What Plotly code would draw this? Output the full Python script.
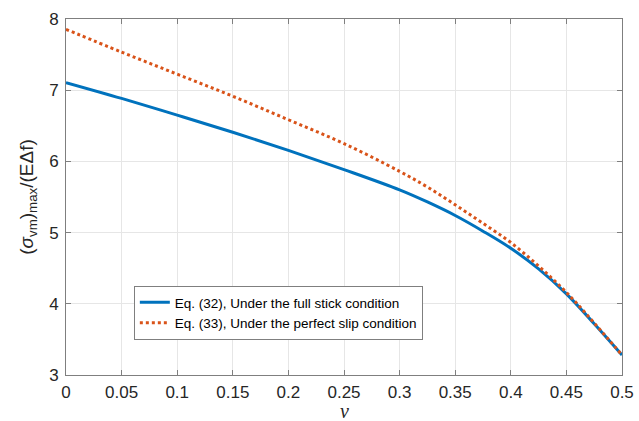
import plotly.graph_objects as go

nu = [0, 0.05, 0.1, 0.15, 0.2, 0.25, 0.3, 0.325, 0.35, 0.375, 0.4, 0.425, 0.45, 0.475, 0.5]
stick = [7.107, 6.885, 6.65, 6.41, 6.155, 5.885, 5.60, 5.43, 5.24, 5.02, 4.78, 4.49, 4.14, 3.72, 3.28]
slip = [7.855, 7.535, 7.225, 6.915, 6.585, 6.25, 5.86, 5.64, 5.39, 5.13, 4.86, 4.53, 4.16, 3.73, 3.28]
xticks = [0, 0.05, 0.1, 0.15, 0.2, 0.25, 0.3, 0.35, 0.4, 0.45, 0.5]
xticklabels = ["0", "0.05", "0.1", "0.15", "0.2", "0.25", "0.3", "0.35", "0.4", "0.45", "0.5"]
yticks = [3, 4, 5, 6, 7, 8]

fig = go.Figure()
fig.add_trace(go.Scatter(x=nu, y=stick, mode="lines", line=dict(color="#0072BD", width=3, shape="spline"),
                         name="Eq. (32), Under the full stick condition"))
fig.add_trace(go.Scatter(x=nu, y=slip, mode="lines", line=dict(color="#D95319", width=3, dash="dot", shape="spline"),
                         name="Eq. (33), Under the perfect slip condition"))

axcommon = dict(showline=True, linecolor="#7f7f7f", linewidth=1, mirror="ticks", ticks="inside", ticklen=5,
                tickcolor="#7f7f7f", showgrid=True, gridcolor="#e6e6e6", gridwidth=1, zeroline=False,
                automargin=False,
                tickfont=dict(family="Liberation Sans, Arial", size=17, color="#262626"))

fig.update_layout(
    width=639, height=421,
    margin=dict(l=66, r=17, t=19, b=46),
    paper_bgcolor="white", plot_bgcolor="white",
    xaxis=dict(range=[0, 0.5], tickvals=xticks, ticktext=xticklabels, ticklabelstandoff=2, **axcommon),
    yaxis=dict(range=[3, 8], tickvals=yticks, ticklabelstandoff=3,
               title=dict(text="(<i>σ</i><sub>vm</sub>)<sub>max</sub>/(EΔf)", font=dict(family="Liberation Sans, Arial", size=19, color="#262626"), standoff=10),
               **axcommon),
    legend=dict(x=0.122, y=0.25, xanchor="left", yanchor="top", bgcolor="white", bordercolor="#7f7f7f", borderwidth=1,
                font=dict(family="Liberation Sans, Arial", size=13.5, color="#000000"), tracegroupgap=0, itemwidth=30),
    showlegend=True,
    annotations=[dict(text="<i>ν</i>", xref="paper", yref="paper", x=0.5, y=-0.102, xanchor="center", yanchor="middle",
                      showarrow=False, font=dict(family="Liberation Serif, Times New Roman", size=20, color="#262626"))],
)

fig.write_html("out.html")
